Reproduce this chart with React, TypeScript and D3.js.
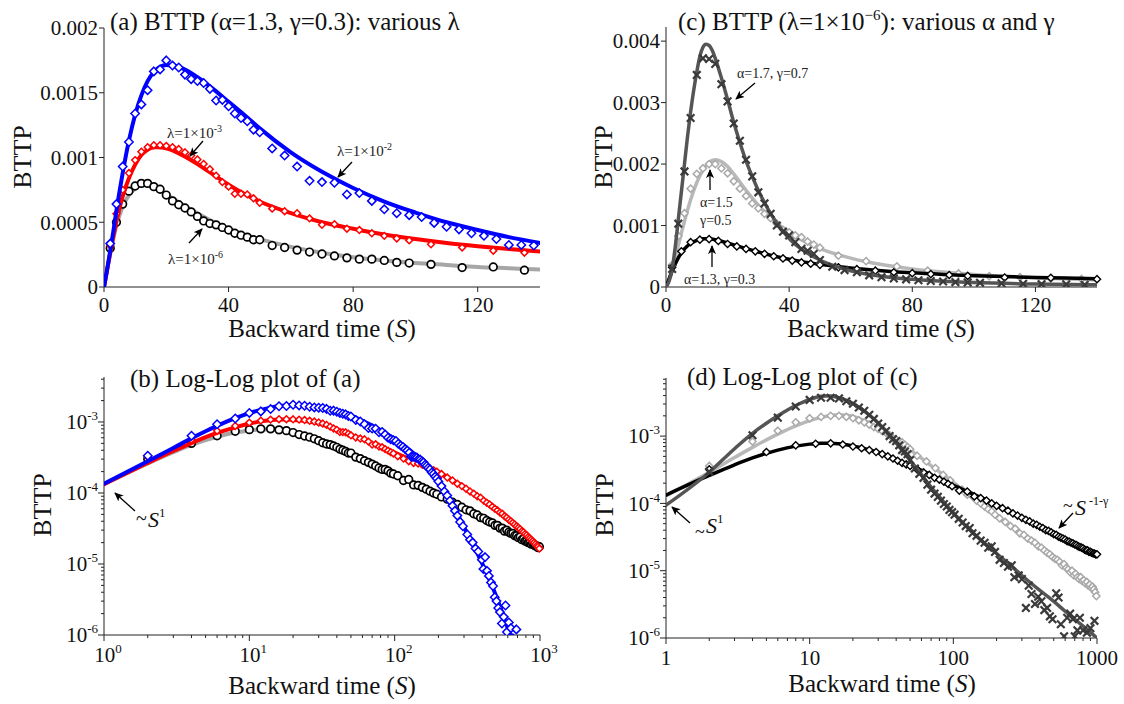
import React from "react";
import * as d3 from "d3";

const FONT = "'Liberation Serif', 'Times New Roman', 'DejaVu Serif', serif";
const AX = "#222";

// ---------------- (a)/(b): alpha=1.3, gamma=0.3, various lambda ----------------
const binAX = [2,4,6,8,10,12,14,16,18,20,22,24,26,28,30,32,34,36,38,40,42,44,46,48,50,
  54,58,62,66,70,74,78,82,86,90,94,98,
  105,115,125,135,
  145,155,165,175,185,195,
  210,230,250,270,290,310,330,350,370,390,
  410,430,450,470,490,510,530,550,570,590,
  610,630,650,670,690,710,730,750,770,790,
  810,830,850,870,890,910,930,950,970,990];

const lam6Y = [3.0e-4,5.0e-4,6.4e-4,7.4e-4,7.8e-4,8.0e-4,8.0e-4,7.75e-4,7.55e-4,7.1e-4,6.65e-4,6.35e-4,6.1e-4,5.8e-4,5.45e-4,5.1e-4,4.9e-4,4.8e-4,4.6e-4,4.4e-4,4.15e-4,4.0e-4,3.85e-4,3.65e-4,3.65e-4,
  3.2e-4,3.05e-4,2.85e-4,2.7e-4,2.55e-4,2.4e-4,2.25e-4,2.15e-4,2.15e-4,2.05e-4,1.9e-4,1.85e-4,
  1.75e-4,1.5e-4,1.55e-4,1.3e-4,
  1.28e-4,1.2e-4,1.13e-4,1.06e-4,1.0e-4,9.6e-5,
  8.8e-5,8.2e-5,7.4e-5,6.9e-5,6.3e-5,5.8e-5,5.6e-5,5.1e-5,4.9e-5,4.5e-5,
  4.4e-5,4.1e-5,3.9e-5,3.8e-5,3.5e-5,3.5e-5,3.2e-5,3.2e-5,2.9e-5,3.0e-5,
  2.8e-5,2.7e-5,2.7e-5,2.5e-5,2.5e-5,2.35e-5,2.4e-5,2.2e-5,2.25e-5,2.1e-5,
  2.1e-5,2.0e-5,2.0e-5,1.9e-5,1.95e-5,1.85e-5,1.8e-5,1.8e-5,1.7e-5,1.75e-5];

const lam3Y = [3.2e-4,5.65e-4,7.5e-4,8.8e-4,9.8e-4,1.045e-3,1.08e-3,1.095e-3,1.095e-3,1.09e-3,1.08e-3,1.065e-3,1.04e-3,1.015e-3,9.85e-4,9.5e-4,9.1e-4,8.6e-4,8.1e-4,7.75e-4,7.2e-4,7.2e-4,7.15e-4,6.85e-4,6.5e-4,
  6.05e-4,5.85e-4,5.7e-4,5.3e-4,4.8e-4,4.85e-4,4.5e-4,4.4e-4,4.15e-4,3.95e-4,3.75e-4,3.6e-4,
  3.3e-4,3.05e-4,2.8e-4,2.65e-4,
  2.6e-4,2.5e-4,2.4e-4,2.2e-4,2.1e-4,2.0e-4,
  1.85e-4,1.65e-4,1.5e-4,1.35e-4,1.25e-4,1.15e-4,1.05e-4,9.8e-5,9.0e-5,8.6e-5,
  7.8e-5,7.3e-5,6.9e-5,6.4e-5,6.0e-5,5.7e-5,5.3e-5,5.1e-5,4.7e-5,4.5e-5,
  4.2e-5,4.0e-5,3.8e-5,3.6e-5,3.4e-5,3.25e-5,3.1e-5,2.9e-5,2.8e-5,2.65e-5,
  2.55e-5,2.4e-5,2.3e-5,2.2e-5,2.1e-5,2.0e-5,1.9e-5,1.8e-5,1.75e-5,1.65e-5];

const blueX = [2,4,6,8,10,12,14,16,18,20,22,24,26,28,30,32,34,36,38,40,42,44,46,48,50,
  54,58,62,66,70,74,78,82,86,90,94,98,102,106,110,114,118,122,126,130,134,138,
  142,146,150,154,158,162,166,170,
  175,180,185,190,195,200,
  210,220,230,240,250,260,270,
  282,295,316,330,344,360,376,
  398,408,419,432,445,460,475,488,
  502,516,530,547,563,579,592,610,631,650,688];

const lam2Y = [3.35e-4,6.4e-4,9.3e-4,1.12e-3,1.34e-3,1.41e-3,1.52e-3,1.665e-3,1.68e-3,1.75e-3,1.71e-3,1.695e-3,1.64e-3,1.605e-3,1.59e-3,1.575e-3,1.53e-3,1.44e-3,1.445e-3,1.395e-3,1.34e-3,1.305e-3,1.28e-3,1.215e-3,1.195e-3,
  1.07e-3,1.015e-3,9.3e-4,8.2e-4,8.1e-4,8.05e-4,7.15e-4,7.25e-4,6.65e-4,6.0e-4,5.7e-4,5.55e-4,5.4e-4,4.95e-4,4.65e-4,4.45e-4,4.15e-4,3.95e-4,3.7e-4,3.25e-4,3.25e-4,3.2e-4,
  3.15e-4,3.0e-4,2.95e-4,2.8e-4,2.7e-4,2.5e-4,2.4e-4,2.25e-4,
  2.15e-4,1.95e-4,1.85e-4,1.7e-4,1.6e-4,1.45e-4,
  1.25e-4,1.05e-4,9.2e-5,7.8e-5,6.6e-5,5.6e-5,4.8e-5,
  3.9e-5,3.4e-5,2.6e-5,2.2e-5,2.0e-5,1.65e-5,1.5e-5,
  1.15e-5,8.5e-6,1.25e-5,8.0e-6,6.8e-6,5.5e-6,4.9e-6,3.4e-6,
  3.0e-6,2.4e-6,2.1e-6,1.45e-6,1.8e-6,2.6e-6,1.1e-6,1.5e-6,1.25e-6,9e-7,1.2e-6];

const curveAX = [0,1,2,3,4,5,6,8,10,12,14,16,18,20,22,25,30,35,40,45,50,60,70,80,90,100,110,120,130,140,150,170,200,225,250,275,300,350,400,450,500,550,600,650,700,800,900,1000];
const lam6Curve = [0,1.33e-4,2.6e-4,3.75e-4,4.75e-4,5.55e-4,6.2e-4, 7.1e-4,7.6e-4,7.85e-4,7.85e-4,7.7e-4,7.45e-4,7.15e-4,6.85e-4,
  6.4e-4,5.7e-4,5.05e-4,4.5e-4,4.05e-4,3.7e-4,
  3.1e-4,2.65e-4,2.3e-4,2.05e-4,1.85e-4,1.7e-4,1.55e-4,1.45e-4,1.35e-4,
  1.27e-4,1.12e-4,9.5e-5,8.4e-5,7.5e-5,6.8e-5,6.2e-5,
  5.3e-5,4.6e-5,4.1e-5,3.6e-5,3.3e-5,3.0e-5,2.75e-5,2.55e-5,
  2.2e-5,1.95e-5,1.75e-5];
const lam3Curve = [0,1.33e-4,2.65e-4,3.9e-4,5.05e-4,6.1e-4,7.0e-4, 8.4e-4,9.45e-4,1.02e-3,1.06e-3,1.08e-3,1.08e-3,1.07e-3,1.055e-3,
  1.02e-3,9.5e-4,8.7e-4,7.9e-4,7.2e-4,6.6e-4,
  5.7e-4,5.0e-4,4.5e-4,4.05e-4,3.7e-4,3.4e-4,3.15e-4,2.93e-4,2.75e-4,
  2.58e-4,2.3e-4,1.95e-4,1.72e-4,1.52e-4,1.36e-4,1.22e-4,
  1.0e-4,8.3e-5,7.0e-5,5.9e-5,5.0e-5,4.3e-5,3.8e-5,3.35e-5,
  2.65e-5,2.1e-5,1.65e-5];
const blueCurveX = [0,1,2,3,4,5,6,8,10,12,14,16,18,20,22,25,30,35,40,45,50,60,70,80,90,100,110,120,130,140,150,170,200,225,250,275,300,350,400,450,500,550,600,650,700];
const lam2Curve = [0,1.35e-4,2.8e-4,4.3e-4,5.9e-4,7.4e-4,8.8e-4, 1.13e-3,1.33e-3,1.48e-3,1.59e-3,1.66e-3,1.70e-3,1.715e-3,1.71e-3,
  1.69e-3,1.62e-3,1.53e-3,1.43e-3,1.33e-3,1.225e-3,
  1.04e-3,8.9e-4,7.65e-4,6.6e-4,5.75e-4,5.0e-4,4.4e-4,3.85e-4,3.4e-4,
  2.98e-4,2.28e-4,1.48e-4,1.02e-4,6.9e-5,4.7e-5,3.3e-5,
  1.8e-5,1.02e-5,6.0e-6,3.5e-6,2.05e-6,1.25e-6,8e-7,5e-7];

// ---------------- (c)/(d): lambda=1e-6, various alpha, gamma ----------------
const crossX = [2,4,6,8,10,12,14,16,18,20,22,24,26,28,30,32,34,36,38,40,42,44,46,48,50,
  54,58,62,66,70,74,78,82,86,90,94,98,
  102,109,116,122,130,136,
  145,155,165,175,185,195,210,225,240,255,266,285,300,320,335,350,370,390,410,430,450,470,490,520,540,560,590,620,650,680,700,730,760,800,850,900,960];
const crossY = [2.95e-4,1.03e-3,1.88e-3,2.75e-3,3.45e-3,3.72e-3,3.71e-3,3.63e-3,3.3e-3,3.02e-3,2.66e-3,2.38e-3,2.07e-3,1.8e-3,1.54e-3,1.36e-3,1.19e-3,1.0e-3,9.0e-4,8.4e-4,7.3e-4,6.2e-4,5.9e-4,5.4e-4,4.4e-4,
  3.3e-4,2.75e-4,2.4e-4,1.9e-4,1.6e-4,1.4e-4,1.25e-4,1.1e-4,9.8e-5,9.0e-5,8.0e-5,7.4e-5,
  6.8e-5,5.9e-5,5.2e-5,4.6e-5,4.3e-5,3.6e-5,
  3.3e-5,2.8e-5,2.6e-5,2.2e-5,2.3e-5,1.9e-5,1.45e-5,1.3e-5,1.15e-5,1.2e-5,8.0e-6,8.5e-6,7.5e-6,2.8e-6,6.0e-6,4.5e-6,3.2e-6,4.1e-6,3.5e-6,2.6e-6,2.8e-6,2.1e-6,1.9e-6,4.6e-6,4.0e-6,1.6e-6,1.06e-6,2.0e-6,2.3e-6,1.9e-6,1.06e-6,1.3e-6,2.0e-6,1.3e-6,1.2e-6,1.4e-6,1.8e-6];
const darkCurveX = [0,1,2,3,4,5,6,7,8,9,10,11,12,13,14,15,16,18,20,22,24,26,28,30,33,36,40,45,50,55,60,70,80,90,100,120,140,170,200,250,300,400,500,600,700,800,1000];
const darkCurve = [0,9.4e-5,2.9e-4,6.5e-4,1.1e-3,1.55e-3,2.0e-3,2.45e-3,2.85e-3,3.2e-3,3.5e-3,3.75e-3,3.9e-3,3.95e-3,3.93e-3,3.85e-3,3.72e-3,
  3.4e-3,3.05e-3,2.68e-3,2.35e-3,2.05e-3,1.8e-3,1.57e-3,
  1.28e-3,1.04e-3,7.9e-4,5.8e-4,4.4e-4,3.4e-4,2.65e-4,
  1.75e-4,1.25e-4,9.3e-5,7.2e-5,
  4.8e-5,3.5e-5,2.4e-5,1.8e-5,1.2e-5,8.5e-6,
  5.1e-6,3.5e-6,2.5e-6,1.9e-6,1.5e-6,
  1.0e-6];

const lightX = [2,4,6,8,10,12,14,16,18,20,22,24,26,28,30,32,34,36,38,40,42,44,46,48,50,
  56,65,75,85,95,105,115,125,135,
  145,155,165,175,185,195,
  210,230,250,270,290,310,330,350,370,390,
  410,430,450,470,490,510,530,550,570,590,
  610,630,650,670,690,710,730,750,770,790,
  810,830,850,870,890,910,930,950,970,990];
const lightY = [3.6e-4,8.3e-4,1.2e-3,1.6e-3,1.84e-3,1.93e-3,2.0e-3,2.0e-3,1.93e-3,1.85e-3,1.72e-3,1.6e-3,1.48e-3,1.36e-3,1.28e-3,1.19e-3,1.12e-3,1.03e-3,9.3e-4,8.9e-4,8.4e-4,8.1e-4,7.4e-4,6.9e-4,6.4e-4,
  5.1e-4,4.2e-4,3.35e-4,2.65e-4,2.2e-4,1.75e-4,1.6e-4,1.35e-4,1.3e-4,
  1.1e-4,1.0e-4,9.0e-5,8.2e-5,7.6e-5,6.8e-5,
  6.0e-5,5.3e-5,4.6e-5,4.2e-5,3.6e-5,3.4e-5,3.0e-5,2.8e-5,2.6e-5,2.3e-5,
  2.2e-5,2.0e-5,1.85e-5,1.75e-5,1.6e-5,1.5e-5,1.45e-5,1.35e-5,1.2e-5,1.25e-5,
  1.1e-5,1.05e-5,9.5e-6,1.0e-5,8.5e-6,9.0e-6,8.0e-6,7.5e-6,8.0e-6,7.0e-6,
  7.2e-6,6.5e-6,6.8e-6,6.0e-6,6.2e-6,5.6e-6,5.8e-6,5.3e-6,4.8e-6,4.2e-6];
const lightCurveX = [0,1,2,3,4,5,6,8,10,12,14,16,18,20,22,25,30,35,40,45,50,60,70,80,90,100,120,140,170,200,250,300,400,500,600,700,800,1000];
const lightCurve = [0,1.29e-4,2.9e-4,4.8e-4,6.8e-4,8.8e-4,1.07e-3, 1.42e-3,1.7e-3,1.9e-3,2.03e-3,2.07e-3,2.04e-3,1.96e-3,1.84e-3,
  1.64e-3,1.33e-3,1.08e-3,8.9e-4,7.4e-4,6.25e-4,
  4.7e-4,3.65e-4,2.95e-4,2.45e-4,2.05e-4,
  1.5e-4,1.15e-4,
  8.5e-5,6.4e-5,4.6e-5,3.5e-5,
  2.25e-5,1.6e-5,1.2e-5,9.5e-6,7.7e-6,
  5.3e-6];

const blackDX = [2,5,8,11,14,17,20,23,26,29,32,35,38,41,44,47,50,
  56,62,68,74,80,86,92,98,
  110,125,140,
  155,170,185,200,
  220,240,260,280,300,320,340,360,380,400,
  420,440,460,480,500,520,540,560,580,600,
  620,640,660,680,700,720,740,760,780,800,
  820,840,860,880,900,920,940,960,980,1000];
const blackDY = [3.2e-4,5.8e-4,7.3e-4,7.7e-4,7.8e-4,7.5e-4,7.0e-4,6.6e-4,6.2e-4,5.8e-4,5.4e-4,5.0e-4,4.65e-4,4.3e-4,4.0e-4,3.8e-4,3.6e-4,
  3.2e-4,2.9e-4,2.65e-4,2.4e-4,2.25e-4,2.1e-4,1.95e-4,1.8e-4,
  1.55e-4,1.5e-4,1.27e-4,
  1.2e-4,1.1e-4,1.0e-4,9.2e-5,
  8.5e-5,7.8e-5,7.1e-5,6.6e-5,6.1e-5,5.7e-5,5.4e-5,5.0e-5,4.8e-5,4.5e-5,
  4.3e-5,4.0e-5,3.9e-5,3.7e-5,3.5e-5,3.4e-5,3.2e-5,3.1e-5,3.0e-5,2.9e-5,
  2.75e-5,2.7e-5,2.6e-5,2.55e-5,2.45e-5,2.4e-5,2.3e-5,2.25e-5,2.2e-5,2.15e-5,
  2.05e-5,2.0e-5,2.0e-5,1.9e-5,1.9e-5,1.85e-5,1.8e-5,1.8e-5,1.75e-5,1.75e-5];

// ---------------- ticks ----------------
const linXTicks = [0, 40, 80, 120];
const aYTicks = [0, 0.0005, 0.001, 0.0015, 0.002];
const aYLabels = ["0", "0.0005", "0.001", "0.0015", "0.002"];
const cYTicks = [0, 0.001, 0.002, 0.003, 0.004];
const cYLabels = ["0", "0.001", "0.002", "0.003", "0.004"];
const logYExp = [-6, -5, -4, -3];
const logXExp = [0, 1, 2, 3];
const dXLabels = ["1", "10", "100", "1000"];

type Pt = [number, number];
type Frame = { left: number; right: number; top: number; bottom: number };
type Sc = (v: number) => number;

const zip = (xs: number[], ys: number[]): Pt[] => xs.map((x, i) => [x, ys[i]] as Pt);

function Curve({ xs, ys, sx, sy, color, w, log, xmax }: any) {
  const pts = zip(xs, ys).filter(([x, y]) => (log ? x > 0 && y > 0 : x <= xmax));
  const d = d3.line<Pt>().x((p) => sx(p[0])).y((p) => sy(p[1])).curve(d3.curveMonotoneX)(pts) || "";
  return <path d={d} fill="none" stroke={color} strokeWidth={w} strokeLinejoin="round" strokeLinecap="round" />;
}

function Marks({ xs, ys, sx, sy, shape, color, r, sw, log, xmax }: any) {
  const pts = zip(xs, ys).filter(([x, y]) => (log ? x > 0 && y > 0 : x <= xmax));
  return (
    <g>
      {pts.map(([x, y], i) => {
        const px = sx(x), py = sy(y);
        if (shape === "circle") return <circle key={i} cx={px} cy={py} r={r} fill="#fff" stroke={color} strokeWidth={sw} />;
        if (shape === "diamond")
          return <path key={i} d={`M${px},${py - r}L${px + r},${py}L${px},${py + r}L${px - r},${py}Z`} fill="#fff" stroke={color} strokeWidth={sw} />;
        return <path key={i} d={`M${px - r},${py - r}L${px + r},${py + r}M${px - r},${py + r}L${px + r},${py - r}`} fill="none" stroke={color} strokeWidth={sw} />;
      })}
    </g>
  );
}

const TXT = { fontFamily: FONT, fill: "#111" } as any;

function LinAxes({ f, sx, sy, yTicks, yLabels }: { f: Frame; sx: Sc; sy: Sc; yTicks: number[]; yLabels: string[] }) {
  return (
    <g>
      <line x1={f.left} x2={f.left} y1={f.top} y2={f.bottom} stroke={AX} strokeWidth={1} />
      <line x1={f.left} x2={f.right} y1={f.bottom} y2={f.bottom} stroke={AX} strokeWidth={1} />
      {yTicks.map((t, i) => (
        <g key={"y" + i}>
          <line x1={f.left - 5} x2={f.left} y1={sy(t)} y2={sy(t)} stroke={AX} />
          <text x={f.left - 6} y={sy(t)} dy="0.35em" textAnchor="end" style={{ ...TXT, fontSize: 21 }}>{yLabels[i]}</text>
        </g>
      ))}
      {linXTicks.map((t, i) => (
        <g key={"x" + i}>
          <line x1={sx(t)} x2={sx(t)} y1={f.bottom} y2={f.bottom + 5} stroke={AX} />
          <text x={sx(t)} y={f.bottom + 25} textAnchor="middle" style={{ ...TXT, fontSize: 21 }}>{String(t)}</text>
        </g>
      ))}
    </g>
  );
}

function LogAxes({ f, sx, sy, yTop, xLabels }: { f: Frame; sx: Sc; sy: Sc; yTop: number; xLabels?: string[] }) {
  const yMinor: number[] = [];
  for (const e of [-6, -5, -4, -3]) for (let k = 2; k <= 9; k++) { const v = k * Math.pow(10, e); if (v <= yTop) yMinor.push(v); }
  const xMinor: number[] = [];
  for (const e of [0, 1, 2]) for (let k = 2; k <= 9; k++) xMinor.push(k * Math.pow(10, e));
  return (
    <g>
      <line x1={f.left} x2={f.left} y1={f.top} y2={f.bottom} stroke={AX} strokeWidth={1} />
      <line x1={f.left} x2={f.right} y1={f.bottom} y2={f.bottom} stroke={AX} strokeWidth={1} />
      {yMinor.map((v, i) => <line key={"ym" + i} x1={f.left - 3} x2={f.left} y1={sy(v)} y2={sy(v)} stroke={AX} />)}
      {xMinor.map((v, i) => <line key={"xm" + i} x1={sx(v)} x2={sx(v)} y1={f.bottom} y2={f.bottom + 3} stroke={AX} />)}
      {logYExp.map((e, i) => (
        <g key={"y" + i}>
          <line x1={f.left - 6} x2={f.left} y1={sy(Math.pow(10, e))} y2={sy(Math.pow(10, e))} stroke={AX} />
          <text x={f.left - 6} y={sy(Math.pow(10, e))} dy="0.35em" textAnchor="end" style={{ ...TXT, fontSize: 21 }}>
            10<tspan style={{ fontSize: 13 }} dy={-9}>{String(e)}</tspan>
          </text>
        </g>
      ))}
      {logXExp.map((e, i) => (
        <g key={"x" + i}>
          <line x1={sx(Math.pow(10, e))} x2={sx(Math.pow(10, e))} y1={f.bottom} y2={f.bottom + 6} stroke={AX} />
          {xLabels ? (
            <text x={sx(Math.pow(10, e))} y={f.bottom + 27} textAnchor="middle" style={{ ...TXT, fontSize: 21 }}>{xLabels[i]}</text>
          ) : (
            <text x={sx(Math.pow(10, e)) + 4} y={f.bottom + 27} textAnchor="middle" style={{ ...TXT, fontSize: 21 }}>
              10<tspan style={{ fontSize: 13 }} dy={-9}>{String(e)}</tspan>
            </text>
          )}
        </g>
      ))}
    </g>
  );
}

function XTitle({ x, y }: { x: number; y: number }) {
  return (
    <text x={x} y={y} textAnchor="middle" style={{ ...TXT, fontSize: 25 }}>
      Backward time (<tspan style={{ fontStyle: "italic" }}>S</tspan>)
    </text>
  );
}
function YTitle({ x, y }: { x: number; y: number }) {
  return (
    <text transform={`translate(${x},${y}) rotate(-90)`} textAnchor="middle" style={{ ...TXT, fontSize: 26 }}>BTTP</text>
  );
}

function ClipDefs({ id, f }: { id: string; f: Frame }) {
  return (
    <>
      <clipPath id={id + "L"}><rect x={f.left} y={f.top - 2} width={f.right - f.left} height={f.bottom - f.top + 2} /></clipPath>
      <clipPath id={id + "M"}><rect x={f.left - 8} y={f.top - 8} width={f.right - f.left + 16} height={f.bottom - f.top + 8} /></clipPath>
    </>
  );
}

export default function App() {
  const A: Frame = { left: 104, right: 540, top: 28, bottom: 287 };
  const B: Frame = { left: 104, right: 540, top: 377, bottom: 635 };
  const C: Frame = { left: 666, right: 1097, top: 27, bottom: 287 };
  const D: Frame = { left: 666, right: 1097, top: 378, bottom: 638 };
  const bTop = 4.3e-3;
  const dTop = 7.3e-3;

  const xa = d3.scaleLinear().domain([0, 140]).range([A.left, A.right]);
  const ya = d3.scaleLinear().domain([0, 0.002]).range([A.bottom, A.top]);
  const xb = d3.scaleLog().domain([1, 1000]).range([B.left, B.right]);
  const yb = d3.scaleLog().domain([1e-6, bTop]).range([B.bottom, B.top]);
  const xc = d3.scaleLinear().domain([0, 140]).range([C.left, C.right]);
  const yc = d3.scaleLinear().domain([0, 0.00423]).range([C.bottom, C.top]);
  const xd = d3.scaleLog().domain([1, 1000]).range([D.left, D.right]);
  const yd = d3.scaleLog().domain([1e-6, dTop]).range([D.bottom, D.top]);

  const GRAY = "#a6a6a6", RED = "#ff0000", BLUE = "#0000ff";
  const DARK = "#555555", LIGHT = "#b8b8b8", LIGHTM = "#a9a9a9";

  const abLayers = (sx: Sc, sy: Sc, log: boolean, id: string) => (
    <g>
      <g clipPath={`url(#${id}L)`}>
        <Curve xs={curveAX} ys={lam6Curve} sx={sx} sy={sy} color={GRAY} w={4} log={log} xmax={150} />
      </g>
      <g clipPath={`url(#${id}M)`}>
        <Marks xs={binAX} ys={lam6Y} sx={sx} sy={sy} shape="circle" color="#000" r={3.8} sw={1.7} log={log} xmax={140} />
      </g>
      <g clipPath={`url(#${id}L)`}>
        <Curve xs={curveAX} ys={lam3Curve} sx={sx} sy={sy} color={RED} w={4} log={log} xmax={150} />
      </g>
      <g clipPath={`url(#${id}M)`}>
        <Marks xs={binAX} ys={lam3Y} sx={sx} sy={sy} shape="diamond" color={RED} r={3.4} sw={1.5} log={log} xmax={140} />
      </g>
      <g clipPath={`url(#${id}L)`}>
        <Curve xs={blueCurveX} ys={lam2Curve} sx={sx} sy={sy} color={BLUE} w={4} log={log} xmax={150} />
      </g>
      <g clipPath={`url(#${id}M)`}>
        <Marks xs={blueX} ys={lam2Y} sx={sx} sy={sy} shape="diamond" color={BLUE} r={4.2} sw={1.5} log={log} xmax={140} />
      </g>
    </g>
  );

  const cdLayers = (sx: Sc, sy: Sc, log: boolean, id: string) => (
    <g>
      <g clipPath={`url(#${id}L)`}>
        <Curve xs={lightCurveX} ys={lightCurve} sx={sx} sy={sy} color={LIGHT} w={3.5} log={log} xmax={150} />
      </g>
      <g clipPath={`url(#${id}M)`}>
        <Marks xs={lightX} ys={lightY} sx={sx} sy={sy} shape="diamond" color={LIGHTM} r={3.6} sw={1.5} log={log} xmax={140} />
      </g>
      <g clipPath={`url(#${id}L)`}>
        <Curve xs={curveAX} ys={lam6Curve} sx={sx} sy={sy} color="#000" w={3.5} log={log} xmax={150} />
      </g>
      <g clipPath={`url(#${id}M)`}>
        <Marks xs={blackDX} ys={blackDY} sx={sx} sy={sy} shape="diamond" color="#000" r={3.6} sw={1.4} log={log} xmax={140} />
      </g>
      <g clipPath={`url(#${id}L)`}>
        <Curve xs={darkCurveX} ys={darkCurve} sx={sx} sy={sy} color={DARK} w={3.5} log={log} xmax={150} />
      </g>
      <g clipPath={`url(#${id}M)`}>
        <Marks xs={crossX} ys={crossY} sx={sx} sy={sy} shape="cross" color="#3a3a3a" r={3.8} sw={2.2} log={log} xmax={140} />
      </g>
    </g>
  );

  const ann = { ...TXT, fontSize: 15, fill: "#222" } as any;
  const ann14 = { ...TXT, fontSize: 14, fill: "#222" } as any;

  return (
    <svg width={1124} height={704} viewBox="0 0 1124 704" style={{ position: "absolute", left: 0, top: 0, background: "#fff", fontFamily: FONT }}>
      <defs>
        <marker id="arr" viewBox="0 0 10 10" refX="9" refY="5" markerWidth="9" markerHeight="9" markerUnits="userSpaceOnUse" orient="auto">
          <path d="M0,0.5 L10,5 L0,9.5 L2.5,5 Z" fill="#000" />
        </marker>
        <ClipDefs id="ca" f={A} />
        <ClipDefs id="cb" f={B} />
        <ClipDefs id="cc" f={C} />
        <ClipDefs id="cd" f={D} />
      </defs>
      <rect x={0} y={0} width={1124} height={704} fill="#fff" />

      {/* ---------- (a) ---------- */}
      <LinAxes f={A} sx={xa} sy={ya} yTicks={aYTicks} yLabels={aYLabels} />
      {abLayers(xa, ya, false, "ca")}
      <text x={110} y={30} style={{ ...TXT, fontSize: 25 }}>(a) BTTP (α=1.3, γ=0.3): various λ</text>
      <YTitle x={31} y={157} />
      <XTitle x={322} y={337} />
      <text x={167} y={138} style={ann}>λ=1×10<tspan style={{ fontSize: 10 }} dy={-6}>-3</tspan></text>
      <line x1={203} y1={141} x2={190} y2={156} stroke="#000" strokeWidth={1.3} markerEnd="url(#arr)" />
      <text x={337} y={156} style={ann}>λ=1×10<tspan style={{ fontSize: 10 }} dy={-6}>-2</tspan></text>
      <line x1={352} y1={162} x2={338} y2={177} stroke="#000" strokeWidth={1.3} markerEnd="url(#arr)" />
      <text x={168} y={264} style={ann}>λ=1×10<tspan style={{ fontSize: 10 }} dy={-6}>-6</tspan></text>
      <line x1={189} y1={243} x2={202} y2={229} stroke="#000" strokeWidth={1.3} markerEnd="url(#arr)" />

      {/* ---------- (b) ---------- */}
      <LogAxes f={B} sx={xb} sy={yb} yTop={bTop} />
      {abLayers(xb, yb, true, "cb")}
      <text x={130} y={387} style={{ ...TXT, fontSize: 25 }}>(b) Log-Log plot of (a)</text>
      <YTitle x={51} y={505} />
      <XTitle x={322} y={694} />
      <text x={136} y={525} style={{ ...TXT, fontSize: 20 }}>~</text>
      <text x={148} y={527} style={{ ...TXT, fontSize: 22 }}><tspan style={{ fontStyle: "italic" }}>S</tspan><tspan style={{ fontSize: 13 }} dy={-10}>1</tspan></text>
      <line x1={135} y1={511} x2={115} y2={493} stroke="#000" strokeWidth={1.3} markerEnd="url(#arr)" />

      {/* ---------- (c) ---------- */}
      <LinAxes f={C} sx={xc} sy={yc} yTicks={cYTicks} yLabels={cYLabels} />
      {cdLayers(xc, yc, false, "cc")}
      <text x={678} y={30} style={{ ...TXT, fontSize: 25 }}>
        (c) BTTP (λ=1×10<tspan style={{ fontSize: 15 }} dy={-10}>−6</tspan><tspan dy={10}>): various α and γ</tspan>
      </text>
      <YTitle x={612} y={157} />
      <XTitle x={881} y={337} />
      <text x={737} y={78} style={ann14}>α=1.7, γ=0.7</text>
      <line x1={755} y1={83} x2={736} y2={99} stroke="#000" strokeWidth={1.3} markerEnd="url(#arr)" />
      <text x={700} y={207} style={ann14}>α=1.5</text>
      <text x={700} y={225} style={ann14}>γ=0.5</text>
      <line x1={710} y1={190} x2={710} y2={170} stroke="#000" strokeWidth={1.3} markerEnd="url(#arr)" />
      <text x={684} y={284} style={ann14}>α=1.3, γ=0.3</text>
      <line x1={712} y1={267} x2={712} y2={246} stroke="#000" strokeWidth={1.3} markerEnd="url(#arr)" />

      {/* ---------- (d) ---------- */}
      <LogAxes f={D} sx={xd} sy={yd} yTop={dTop} xLabels={dXLabels} />
      {cdLayers(xd, yd, true, "cd")}
      <text x={687} y={385} style={{ ...TXT, fontSize: 25 }}>(d) Log-Log plot of (c)</text>
      <YTitle x={613} y={505} />
      <XTitle x={882} y={692} />
      <text x={695} y={538} style={{ ...TXT, fontSize: 18 }}>~</text>
      <text x={706} y={533} style={{ ...TXT, fontSize: 22 }}><tspan style={{ fontStyle: "italic" }}>S</tspan><tspan style={{ fontSize: 13 }} dy={-10}>1</tspan></text>
      <line x1={690} y1={523} x2={672} y2={507} stroke="#000" strokeWidth={1.3} markerEnd="url(#arr)" />
      <text x={1063} y={512} style={{ ...TXT, fontSize: 18 }}>~</text>
      <text x={1075} y={515} style={{ ...TXT, fontSize: 22 }}><tspan style={{ fontStyle: "italic" }}>S</tspan><tspan style={{ fontSize: 12 }} dx={3} dy={-10}>-1-γ</tspan></text>
      <line x1={1073} y1={513} x2={1059} y2={528} stroke="#000" strokeWidth={1.3} markerEnd="url(#arr)" />
    </svg>
  );
}
